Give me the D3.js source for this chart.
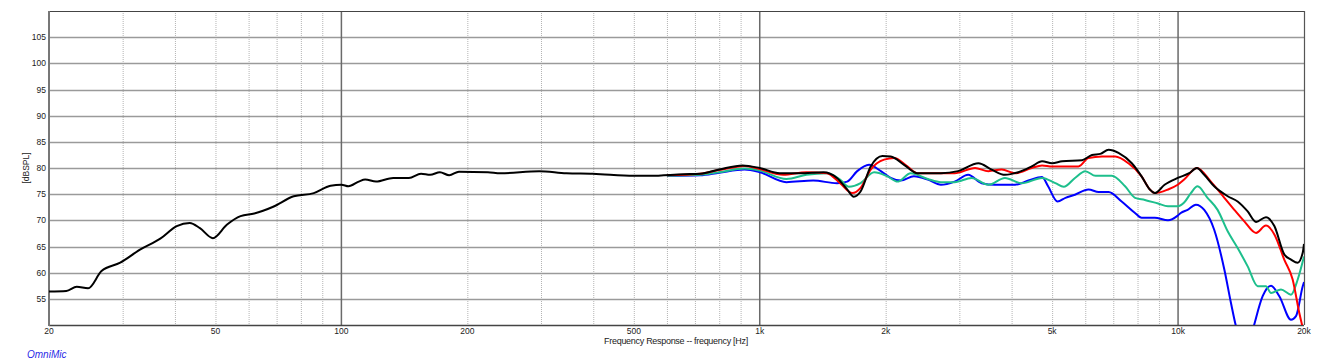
<!DOCTYPE html>
<html>
<head>
<meta charset="utf-8">
<script src="https://cdn.jsdelivr.net/npm/d3@7"></script>
<style>
  body { margin: 0; background: #fff; }
  text { font-family: "Liberation Sans", Arial, sans-serif; }
</style>
</head>
<body>
<div id="chart"></div>
<script>
// frequency response curves, [Hz, dB]
const blackCurve = [[20,56.4],[22,56.5],[23.3,57.3],[24.8,57.0],[26.7,60.3],[29.6,61.9],[33,64.4],[36.9,66.5],[40.4,68.9],[43.4,69.5],[45.9,68.5],[49.3,66.6],[53.3,69.2],[57.4,70.8],[61.9,71.3],[68.7,72.6],[76.9,74.6],[85.9,75.2],[94.2,76.6],[100,76.8],[104,76.5],[110,77.4],[114,77.8],[121,77.4],[133,78.1],[145,78.1],[155,78.9],[163,78.7],[172,79.2],[181,78.6],[191,79.3],[224,79.2],[240,79.0],[297,79.4],[345,79.0],[399,78.9],[500,78.5],[546,78.5],[657,78.8],[720,78.9],[800,79.7],[910,80.5],[1000,80.0],[1117,79.0],[1247,79.0],[1420,79.2],[1530,78.1],[1618,75.9],[1678,74.5],[1742,75.5],[1842,80.3],[1965,82.3],[2057,82.2],[2213,80.6],[2384,79.0],[2712,79.0],[2978,79.4],[3332,80.9],[3584,79.7],[3857,78.7],[4152,79.2],[4468,80.3],[4730,81.3],[5000,80.9],[5282,81.3],[5895,81.5],[6227,82.5],[6518,82.7],[6822,83.5],[7204,82.9],[7752,80.9],[8180,78.4],[8560,75.9],[8795,75.2],[9285,76.8],[9980,78.1],[10630,79.0],[11090,80.0],[11550,78.7],[12200,76.5],[13140,74.6],[13880,73.6],[14670,71.7],[15360,69.7],[16220,70.6],[16990,68.9],[17940,63.5],[18620,62.5],[19320,61.9],[19860,63.8],[20000,65.5]];

const redCurve = [[600,78.6],[720,78.9],[800,79.6],[920,80.4],[1000,79.8],[1138,78.7],[1293,79.2],[1447,79.0],[1556,77.1],[1664,75.2],[1742,76.2],[1842,79.7],[1983,81.6],[2096,81.9],[2254,80.3],[2384,79.0],[2923,79.0],[3271,80.0],[3521,79.4],[3788,79.7],[4077,79.0],[4468,80.0],[4730,80.5],[5000,80.3],[5780,80.3],[6107,81.9],[6580,82.2],[7075,82.2],[7610,80.9],[8180,78.4],[8560,75.9],[8795,75.2],[9460,75.9],[9980,76.8],[10340,77.8],[11090,80.0],[11980,77.4],[12900,74.3],[13630,72.0],[14400,69.8],[15360,67.6],[16220,69.0],[16990,67.3],[17940,62.5],[18790,58.7],[19490,52.3],[20000,48.5]];

const greenCurve = [[600,78.5],[720,78.7],[800,79.2],[920,79.9],[1000,79.5],[1158,77.9],[1293,78.7],[1447,79.0],[1556,77.8],[1633,76.4],[1742,77.1],[1877,79.2],[2020,78.4],[2135,77.4],[2295,79.0],[2521,77.9],[2712,77.3],[2923,77.3],[3210,78.1],[3521,76.8],[3857,78.1],[4230,77.1],[4730,78.1],[5090,77.1],[5330,76.4],[5670,78.1],[6000,79.4],[6350,78.5],[6940,78.5],[7470,76.5],[7890,74.3],[8330,73.9],[8960,73.2],[9460,72.7],[9980,72.7],[10340,73.4],[10730,75.2],[11130,76.5],[11760,74.3],[12430,72.0],[13140,67.9],[13880,64.7],[14670,61.2],[15500,57.4],[16220,57.4],[16680,56.1],[17620,56.8],[18620,55.8],[19320,58.7],[20000,63.1]];

const blueCurve = [[600,78.5],[720,78.6],[800,79.1],[920,79.7],[1000,79.2],[1158,77.3],[1342,77.6],[1530,77.1],[1618,77.4],[1710,79.4],[1825,80.6],[1948,79.4],[2057,78.1],[2174,77.6],[2336,78.4],[2521,77.8],[2712,76.8],[2923,77.4],[3150,78.7],[3391,77.1],[3646,76.8],[4077,76.8],[4388,77.6],[4730,78.3],[4890,76.5],[5150,73.6],[5380,74.3],[5670,74.9],[6107,75.9],[6460,75.4],[6822,75.4],[7330,73.6],[7890,71.4],[8180,70.5],[8795,70.5],[9460,70.0],[9980,70.9],[10150,71.4],[10540,72.0],[11030,73.0],[11550,72.0],[12200,68.2],[12900,60.6],[13380,54.2],[13750,49.8],[14300,46],[14800,46.5],[15210,50.1],[15930,55.5],[16680,57.5],[17460,55.5],[18620,51.0],[19140,51.7],[19860,57.4],[20000,58.2]];

const curves = [
  { data: blueCurve, color: '#0000ff' },
  { data: greenCurve, color: '#1dbf8c' },
  { data: redCurve, color: '#ff0000' },
  { data: blackCurve, color: '#000000' }
];

const yTicks = [55, 60, 65, 70, 75, 80, 85, 90, 95, 100, 105];
const xMajor = [100, 1000, 10000];
const xMinor = [30,40,50,60,70,80,90,200,300,400,500,600,700,800,900,2000,3000,4000,5000,6000,7000,8000,9000];
const xLabels = [[20,'20'],[50,'50'],[100,'100'],[200,'200'],[500,'500'],[1000,'1k'],[2000,'2k'],[5000,'5k'],[10000,'10k'],[20000,'20k']];

const w = 1317;
const h = 362;
const padLeft = 49, padRight = 1304, padTop = 11, padBottom = 325;

const xScale = d3.scaleLog().domain([20, 20000]).range([padLeft, padRight]);
const yScale = d3.scaleLinear().domain([50, 110]).range([padBottom, padTop]);

const svg = d3.select('#chart')
              .append('svg')
              .attr('width', w)
              .attr('height', h);

//Grid
svg.selectAll('.minor')
   .data(xMinor)
   .enter()
   .append('line')
   .attr('x1', d => xScale(d) + 0.5).attr('x2', d => xScale(d) + 0.5)
   .attr('y1', padTop).attr('y2', padBottom)
   .attr('stroke', '#b4b4b4')
   .attr('stroke-dasharray', '1,1');

svg.selectAll('.hgrid')
   .data(yTicks)
   .enter()
   .append('line')
   .attr('x1', padLeft).attr('x2', padRight)
   .attr('y1', d => Math.round(yScale(d)) + 0.5).attr('y2', d => Math.round(yScale(d)) + 0.5)
   .attr('stroke', '#9a9a9a')
   .attr('stroke-width', 1.3);

svg.selectAll('.major')
   .data(xMajor)
   .enter()
   .append('line')
   .attr('x1', d => xScale(d)).attr('x2', d => xScale(d))
   .attr('y1', padTop).attr('y2', padBottom)
   .attr('stroke', '#6a6a6a')
   .attr('stroke-width', 1.5);

//Frame
svg.append('line').attr('x1', padLeft).attr('x2', padRight).attr('y1', padTop + 0.5).attr('y2', padTop + 0.5)
   .attr('stroke', '#444').attr('stroke-width', 1.2);
svg.append('line').attr('x1', padRight + 0.5).attr('x2', padRight + 0.5).attr('y1', padTop).attr('y2', padBottom)
   .attr('stroke', '#555').attr('stroke-width', 1.2);
svg.append('line').attr('x1', padLeft).attr('x2', padRight).attr('y1', padBottom + 0.5).attr('y2', padBottom + 0.5)
   .attr('stroke', '#444').attr('stroke-width', 1.3);
svg.append('line').attr('x1', padLeft).attr('x2', padLeft).attr('y1', padTop).attr('y2', padBottom + 1)
   .attr('stroke', '#777').attr('stroke-width', 2);

//Curves
svg.append('clipPath').attr('id', 'plot')
   .append('rect').attr('x', padLeft).attr('y', padTop).attr('width', padRight - padLeft).attr('height', padBottom - padTop);

const line = d3.line()
               .x(d => xScale(d[0]))
               .y(d => yScale(d[1]))
               .curve(d3.curveMonotoneX);

svg.append('g')
   .attr('clip-path', 'url(#plot)')
   .selectAll('path')
   .data(curves)
   .enter()
   .append('path')
   .attr('d', d => line(d.data))
   .attr('fill', 'none')
   .attr('stroke', d => d.color)
   .attr('stroke-width', 2)
   .attr('stroke-linejoin', 'round');

//Labels
svg.selectAll('.ylab')
   .data(yTicks)
   .enter()
   .append('text')
   .attr('x', padLeft - 3)
   .attr('y', d => yScale(d) + 3)
   .attr('text-anchor', 'end')
   .attr('font-size', 8.5)
   .attr('fill', '#222')
   .text(d => d);

svg.selectAll('.xlab')
   .data(xLabels)
   .enter()
   .append('text')
   .attr('x', d => xScale(d[0]))
   .attr('y', padBottom + 9)
   .attr('text-anchor', 'middle')
   .attr('font-size', 8.5)
   .attr('fill', '#222')
   .text(d => d[1]);

svg.append('text')
   .attr('transform', `translate(29, ${yScale(80)}) rotate(-90)`)
   .attr('text-anchor', 'middle')
   .attr('font-size', 8.5)
   .attr('fill', '#222')
   .text('[dBSPL]');

svg.append('text')
   .attr('x', 676)
   .attr('y', 344)
   .attr('text-anchor', 'middle')
   .attr('font-size', 9)
   .attr('letter-spacing', -0.3)
   .attr('fill', '#222')
   .text('Frequency Response -- frequency [Hz]');

svg.append('text')
   .attr('x', 27)
   .attr('y', 358)
   .attr('font-size', 10)
   .attr('font-style', 'italic')
   .attr('fill', '#2a2ae6')
   .text('OmniMic');
</script>
</body>
</html>
